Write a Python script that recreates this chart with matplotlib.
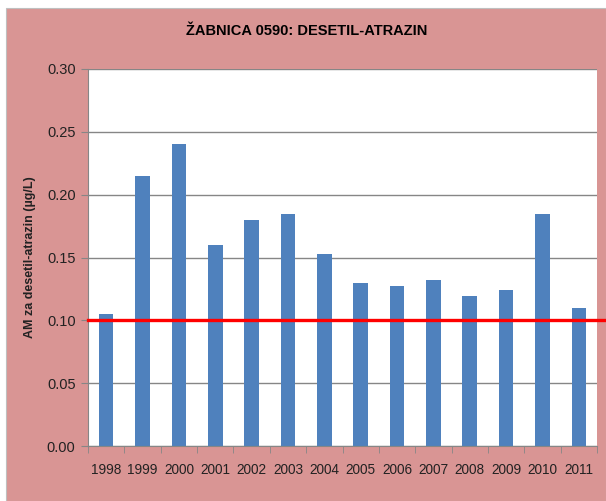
import numpy as np
import matplotlib
matplotlib.use("Agg")
import matplotlib.pyplot as plt
from matplotlib.patches import Rectangle

years = ["1998", "1999", "2000", "2001", "2002", "2003", "2004",
         "2005", "2006", "2007", "2008", "2009", "2010", "2011"]
values = [0.105, 0.215, 0.240, 0.160, 0.180, 0.185, 0.153,
          0.130, 0.127, 0.132, 0.119, 0.124, 0.185, 0.110]
limit = 0.1
yticks = [0.00, 0.05, 0.10, 0.15, 0.20, 0.25, 0.30]

fam = ["Liberation Sans", "DejaVu Sans"]

pink = "#D99594"
blue = "#4F81BD"
grey = "#868686"

fig = plt.figure(figsize=(6.06, 5.01), dpi=100, facecolor="white")
fig.patches.append(Rectangle((6/606, 0), 1 - 6/606, (501 - 8)/501,
                             transform=fig.transFigure, facecolor=pink,
                             edgecolor="#BFBFBF", linewidth=0.8, zorder=-5))

ax = fig.add_axes([88/606, 55/501, 509/606, 377/501])
ax.set_facecolor("white")

x = np.arange(len(years))
ax.bar(x, values, width=0.4, color=blue, zorder=2)

# limit line runs past the plot area to the right edge
ax.axhline(limit, xmin=0, xmax=1.02, color="#FF0000", linewidth=2.4,
           clip_on=False, zorder=4)

ax.set_xlim(-0.5, len(years) - 0.5)
ax.set_ylim(0, 0.30)
ax.set_yticks(yticks)
ax.set_yticklabels(["%.2f" % v for v in yticks], family=fam, fontsize=10.5,
                   color="#222222")
ax.yaxis.grid(True, color=grey, linewidth=1, zorder=1)
ax.set_axisbelow(True)

ax.set_xticks(x)
ax.set_xticklabels(years, family=fam, fontsize=9.8, color="#222222")
ax.set_xticks(np.arange(-0.5, len(years)), minor=True)
ax.tick_params(axis="x", which="major", length=0, pad=12)
ax.tick_params(axis="x", which="minor", length=5, color=grey)
ax.tick_params(axis="y", length=5, color=grey, pad=4)

for s in ["top", "right"]:
    ax.spines[s].set_visible(False)
for s in ["left", "bottom"]:
    ax.spines[s].set_color(grey)

ax.set_ylabel("AM za desetil-atrazin (µg/L)", family=fam, fontsize=9,
              fontweight="bold", color="#222222", labelpad=8)

fig.text(307/606, 1 - 31/501, "ŽABNICA 0590: DESETIL-ATRAZIN", family=fam,
         fontsize=10.5, fontweight="bold", ha="center", va="center")

fig.savefig("out.png", dpi=100, facecolor=fig.get_facecolor())
